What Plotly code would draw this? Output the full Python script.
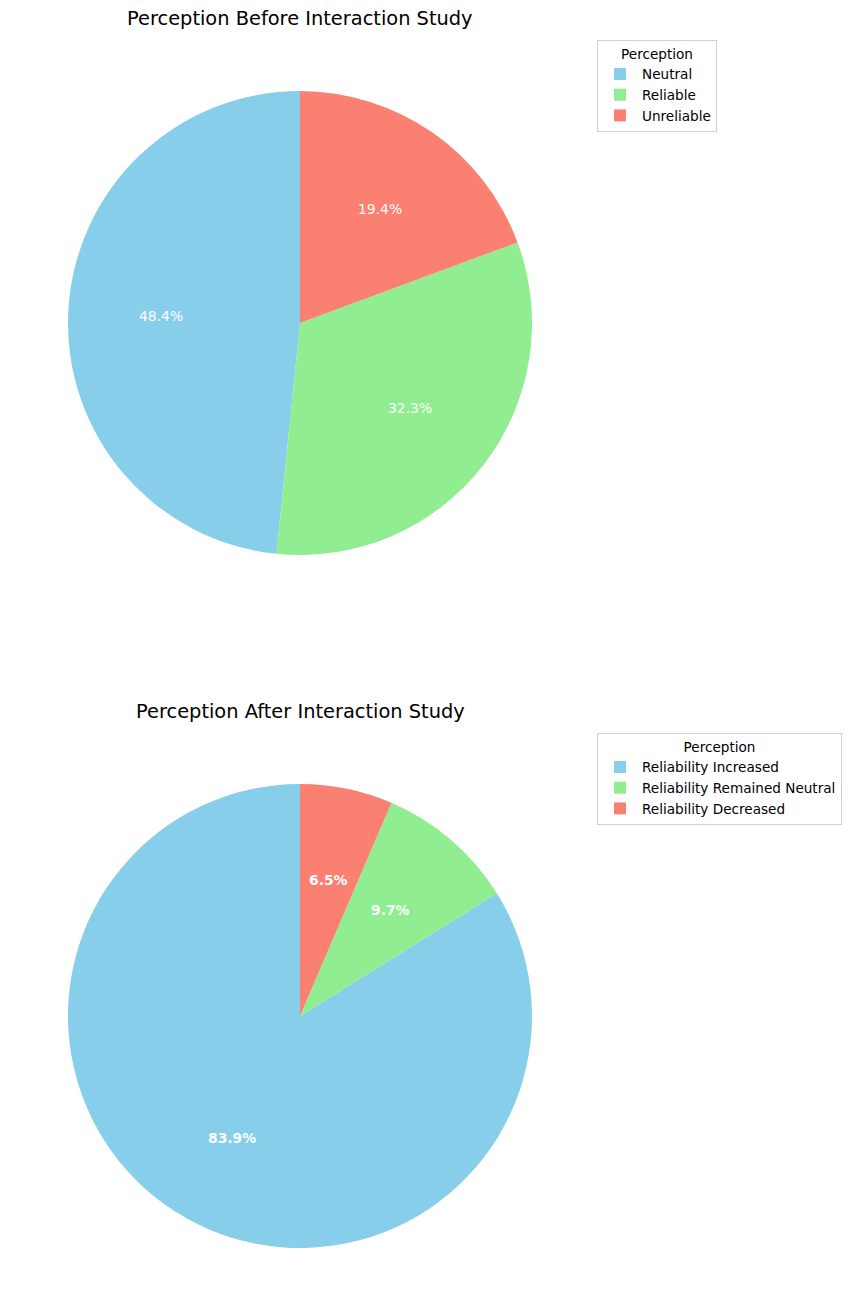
import math
import plotly.graph_objects as go

W, H = 854, 1316

before_labels = ["Neutral", "Reliable", "Unreliable"]
before_values = [15, 10, 6]
after_labels = ["Reliability Increased", "Reliability Remained Neutral", "Reliability Decreased"]
after_values = [26, 3, 2]
colors = ["#87CEEB", "#90EE90", "#FA8072"]

titles = ["Perception Before Interaction Study", "Perception After Interaction Study"]

# pie geometry in pixels: centre and radius
pies = [
    dict(cx=300, cy=323, r=232, labels=before_labels, values=before_values, bold=False, legend="legend"),
    dict(cx=300, cy=1016, r=232, labels=after_labels, values=after_values, bold=True, legend="legend2"),
]

fig = go.Figure()
annotations = []
for i, p in enumerate(pies):
    dom_x = [(p["cx"] - p["r"]) / W, (p["cx"] + p["r"]) / W]
    dom_y = [1 - (p["cy"] + p["r"]) / H, 1 - (p["cy"] - p["r"]) / H]
    total = sum(p["values"])
    # plotly's counterclockwise pie puts the first slice ending at `rotation`;
    # shift so the first slice starts at 12 o'clock (matplotlib startangle=90)
    rot = -360 * p["values"][0] / total
    fig.add_trace(go.Pie(
        labels=p["labels"], values=p["values"],
        marker=dict(colors=colors, line=dict(width=0)),
        sort=False, direction="counterclockwise", rotation=rot,
        textinfo="none", hoverinfo="label+percent",
        domain=dict(x=dom_x, y=dom_y),
        legend=p["legend"],
    ))
    cum = 0
    for v in p["values"]:
        mid = 90 + 360 * (cum + v / 2) / total
        cum += v
        xr = p["cx"] + 0.6 * p["r"] * math.cos(math.radians(mid))
        yr = p["cy"] - 0.6 * p["r"] * math.sin(math.radians(mid))
        txt = f"{100 * v / total:.1f}%"
        if p["bold"]:
            txt = f"<b>{txt}</b>"
        annotations.append(dict(
            x=xr / W, y=1 - yr / H, xref="paper", yref="paper",
            text=txt, showarrow=False, xanchor="center", yanchor="middle",
            font=dict(family="DejaVu Sans", size=13.9, color="white"),
        ))
    ty = 18 if i == 0 else 711
    annotations.append(dict(
        x=p["cx"] / W, y=1 - ty / H, xref="paper", yref="paper",
        text=titles[i], showarrow=False, xanchor="center", yanchor="middle",
        font=dict(family="DejaVu Sans", size=19.4, color="black"),
    ))

legend_common = dict(
    xanchor="left", yanchor="top",
    bgcolor="white", bordercolor="#d0d0d0", borderwidth=1,
    font=dict(family="DejaVu Sans", size=13.6, color="black"),
    title=dict(text="Perception", side="top center",
               font=dict(family="DejaVu Sans", size=13.6, color="black")),
    itemclick=False, itemwidth=34,
)

fig.update_layout(
    width=W, height=H,
    margin=dict(l=0, r=0, t=0, b=0),
    paper_bgcolor="white", plot_bgcolor="white",
    showlegend=True,
    legend=dict(x=597 / W, y=1 - 40 / H, **legend_common),
    legend2=dict(x=597 / W, y=1 - 733 / H, **legend_common),
    annotations=annotations,
    font=dict(family="DejaVu Sans"),
)

fig.write_html("out.html", config={"displayModeBar": False},
               post_script="document.body.style.margin='0';")
